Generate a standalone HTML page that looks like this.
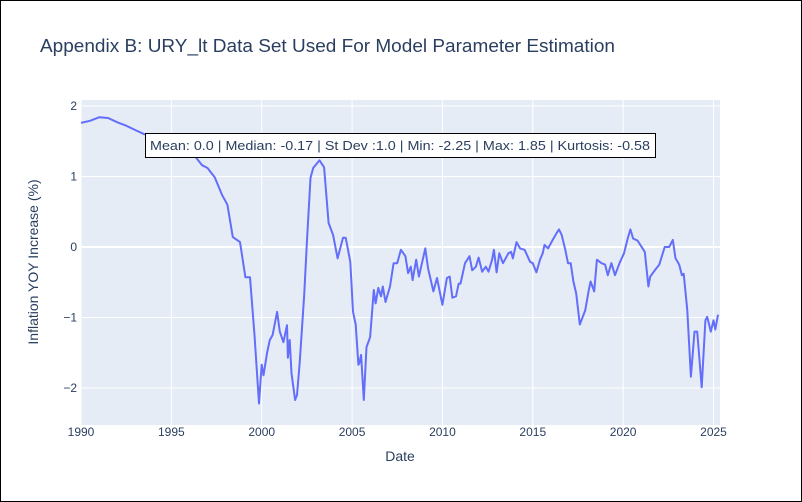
<!DOCTYPE html>
<html><head><meta charset="utf-8"><style>
body{margin:0;background:#fff}
svg{display:block;font-family:"Liberation Sans",sans-serif}
</style></head><body>
<svg id="chart" width="802" height="502">
<rect x="0.5" y="0.5" width="801" height="501" fill="#fff" stroke="#000"/>
<text x="40" y="52" font-size="18" fill="#2a3f5f" textLength="575" lengthAdjust="spacingAndGlyphs">Appendix B: URY_lt Data Set Used For Model Parameter Estimation</text>
<rect x="81" y="100" width="639" height="325" fill="#e5ecf6"/>
<g id="grid"></g>
<g id="ticks"></g>
<path id="line" fill="none" stroke="#636efa" stroke-width="2" stroke-linejoin="round"/>
<text x="400" y="461" font-size="14" fill="#2a3f5f" text-anchor="middle">Date</text>
<text transform="translate(38,262) rotate(-90)" font-size="14" fill="#2a3f5f" text-anchor="middle">Inflation YOY Increase (%)</text>
<g>
<rect x="145.5" y="133.5" width="510" height="24" fill="#fff" stroke="#000"/>
<text x="150" y="150" font-size="12.5" fill="#2a3f5f" textLength="500" lengthAdjust="spacingAndGlyphs">Mean: 0.0 | Median: -0.17 | St Dev :1.0 | Min: -2.25 | Max: 1.85 | Kurtosis: -0.58</text>
</g>
</svg>
<script>
const xTicks=[1990,1995,2000,2005,2010,2015,2020,2025];
const yTicks=[-2,-1,0,1,2];
const years=[1990,1990.5,1991,1991.5,1992,1992.5,1993,1993.5,1994,1995,1996.3,1996.7,1997,1997.4,1997.8,1998.1,1998.4,1998.8,1999.1,1999.35,1999.6,1999.85,2000,2000.1,2000.3,2000.45,2000.6,2000.85,2001,2001.2,2001.4,2001.45,2001.55,2001.65,2001.85,2001.95,2002.1,2002.35,2002.5,2002.7,2002.85,2003.2,2003.45,2003.7,2003.95,2004.2,2004.5,2004.65,2004.9,2005.05,2005.2,2005.35,2005.4,2005.5,2005.65,2005.8,2006,2006.2,2006.3,2006.45,2006.6,2006.7,2006.85,2007.1,2007.3,2007.5,2007.7,2007.95,2008.1,2008.25,2008.35,2008.55,2008.7,2009.05,2009.2,2009.5,2009.7,2010,2010.25,2010.4,2010.55,2010.75,2010.9,2011,2011.25,2011.5,2011.65,2011.85,2012,2012.2,2012.4,2012.55,2012.75,2012.85,2013,2013.15,2013.35,2013.65,2013.8,2013.9,2014.1,2014.3,2014.55,2014.85,2015,2015.2,2015.4,2015.55,2015.65,2015.85,2016.1,2016.3,2016.45,2016.6,2016.8,2016.95,2017.1,2017.25,2017.4,2017.6,2017.9,2018.1,2018.2,2018.4,2018.55,2018.8,2019,2019.15,2019.35,2019.55,2019.8,2020.05,2020.25,2020.4,2020.55,2020.8,2021,2021.2,2021.4,2021.5,2021.75,2022,2022.3,2022.55,2022.75,2022.9,2023.1,2023.25,2023.35,2023.55,2023.75,2023.95,2024.1,2024.35,2024.55,2024.65,2024.85,2025,2025.1,2025.25];
const values=[1.76,1.79,1.84,1.83,1.77,1.72,1.66,1.6,1.58,1.5,1.29,1.16,1.12,0.99,0.74,0.6,0.14,0.07,-0.43,-0.43,-1.25,-2.22,-1.67,-1.82,-1.5,-1.32,-1.25,-0.92,-1.2,-1.35,-1.11,-1.57,-1.32,-1.79,-2.17,-2.1,-1.64,-0.68,0.07,0.98,1.12,1.23,1.13,0.34,0.17,-0.16,0.13,0.13,-0.21,-0.92,-1.1,-1.67,-1.65,-1.53,-2.17,-1.42,-1.28,-0.61,-0.8,-0.58,-0.7,-0.56,-0.78,-0.56,-0.23,-0.23,-0.04,-0.13,-0.37,-0.28,-0.47,-0.18,-0.42,-0.02,-0.3,-0.63,-0.44,-0.82,-0.44,-0.42,-0.72,-0.7,-0.52,-0.52,-0.23,-0.13,-0.33,-0.28,-0.15,-0.35,-0.28,-0.35,-0.18,-0.04,-0.36,-0.09,-0.23,-0.09,-0.07,-0.16,0.07,-0.02,-0.04,-0.21,-0.23,-0.36,-0.18,-0.09,0.03,-0.02,0.1,0.19,0.25,0.17,-0.04,-0.23,-0.23,-0.49,-0.66,-1.1,-0.9,-0.61,-0.49,-0.63,-0.18,-0.23,-0.25,-0.4,-0.23,-0.4,-0.23,-0.09,0.12,0.25,0.12,0.09,0.01,-0.07,-0.56,-0.42,-0.33,-0.25,0.0,0.0,0.1,-0.16,-0.25,-0.4,-0.38,-0.9,-1.84,-1.2,-1.2,-1.99,-1.04,-0.99,-1.2,-1.04,-1.17,-0.96];
const X0=81,X1=720,Y0=100,Y1=425,xMin=1990,xMax=2025.36,yMin=-2.525,yMax=2.085;
function sx(v){return X0+(v-xMin)/(xMax-xMin)*(X1-X0);}
function sy(v){return Y1-(v-yMin)/(yMax-yMin)*(Y1-Y0);}
const NS="http://www.w3.org/2000/svg";
const grid=document.getElementById('grid'),ticks=document.getElementById('ticks');
xTicks.forEach(t=>{
 const l=document.createElementNS(NS,'line');
 l.setAttribute('x1',sx(t));l.setAttribute('x2',sx(t));l.setAttribute('y1',Y0);l.setAttribute('y2',Y1);
 l.setAttribute('stroke','#fff');l.setAttribute('stroke-width','1');
 
 
 grid.appendChild(l);
 const tx=document.createElementNS(NS,'text');
 tx.setAttribute('x',sx(t));tx.setAttribute('y',436);tx.setAttribute('font-size','12');tx.setAttribute('fill','#2a3f5f');tx.setAttribute('text-anchor','middle');
 tx.textContent=t;
 
 
 ticks.appendChild(tx);
});
yTicks.forEach(t=>{
 const l=document.createElementNS(NS,'line');
 l.setAttribute('x1',X0);l.setAttribute('x2',X1);l.setAttribute('y1',sy(t));l.setAttribute('y2',sy(t));
 l.setAttribute('stroke','#fff');l.setAttribute('stroke-width',t===0?'2':'1');
 
 
 grid.appendChild(l);
 const tx=document.createElementNS(NS,'text');
 tx.setAttribute('x',X0-4);tx.setAttribute('y',sy(t)+4);tx.setAttribute('font-size','12');tx.setAttribute('fill','#2a3f5f');tx.setAttribute('text-anchor','end');
 tx.textContent=t<0?'\u2212'+Math.abs(t):t;
 
 
 ticks.appendChild(tx);
});
document.getElementById('line').setAttribute('d',years.map((y,i)=>(i?'L':'M')+sx(y).toFixed(1)+','+sy(values[i]).toFixed(1)).join(''));
</script>
</body></html>
